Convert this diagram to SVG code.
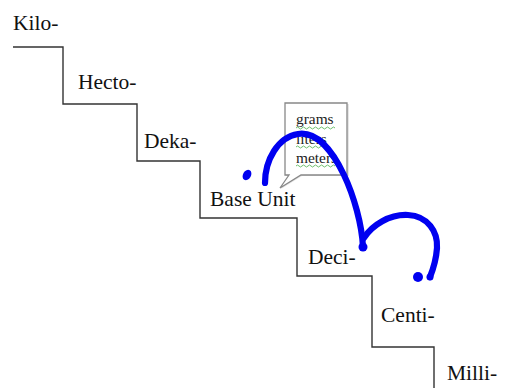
<svg xmlns="http://www.w3.org/2000/svg" width="505" height="388" viewBox="0 0 505 388">
<style>
.lbl{font-family:"Liberation Serif","Times New Roman",serif;font-size:21.5px;fill:#111}
.small{font-family:"Liberation Serif","Times New Roman",serif;font-size:15.4px;fill:#222}
.stair{fill:none;stroke:#333;stroke-width:1.4}
.ink{fill:none;stroke:#0000f0;stroke-width:6.2;stroke-linecap:round;stroke-linejoin:round}
.dot{fill:#0000f0}
.wavy{fill:none;stroke:#5cb85c;stroke-width:0.9}
</style>
<rect width="505" height="388" fill="#fff"/>
<g id="stairs">
<path class="stair" d="M13,47 H63 V104 H137 V161 H200 V218 H297 V276 H372 V347 H434 V388"/>
</g>
<g id="kilo"><text class="lbl" x="13" y="30">Kilo-</text></g>
<g id="hecto"><text class="lbl" x="78" y="89">Hecto-</text></g>
<g id="deka"><text class="lbl" x="144" y="148">Deka-</text></g>
<g id="base"><text class="lbl" x="210" y="206">Base Unit</text></g>
<g id="deci"><text class="lbl" x="308" y="264">Deci-</text></g>
<g id="centi"><text class="lbl" x="381" y="322">Centi-</text></g>
<g id="milli"><text class="lbl" x="447" y="380">Milli-</text></g>
<g id="callout">
<path d="M286,104 H349 V176 H302 L281,189 L290,176 H286 Z" fill="#e6e6e6" stroke="none"/>
<path d="M285,103 H347 V175 H301 L280,188 L289,175 H285 Z" fill="#fff" stroke="#888" stroke-width="1.3"/>
<text class="small" x="296" y="124">grams</text>
<text class="small" x="296" y="144">liters</text>
<text class="small" x="296" y="163">meters</text>
<path class="wavy" d="M296,128 q1.5,-2 3,0 t3,0 t3,0 t3,0 t3,0 t3,0 t3,0 t3,0 t3,0 t3,0 t3,0 t3,0 t3,0"/>
<path class="wavy" d="M296,147 q1.5,-2 3,0 t3,0 t3,0 t3,0 t3,0 t3,0 t3,0 t3,0 t3,0 t3,0 t3,0"/>
<path class="wavy" d="M296,166 q1.5,-2 3,0 t3,0 t3,0 t3,0 t3,0 t3,0 t3,0 t3,0 t3,0 t3,0 t3,0 t3,0 t3,0"/>
</g>
<g id="connectors">
<path class="ink" d="M265,183 C265,160 278,137 298,134 C318,131 334,154 344,175 C354,196 362,225 363,247"/>
<path class="ink" d="M364,238 C372,225 390,214 408,215 C428,216 438,232 437,248 C436,262 432,272 430,277"/>
<circle class="dot" cx="363" cy="247" r="4.5"/>
<circle class="dot" cx="418" cy="277" r="5"/>
<circle class="dot" cx="430" cy="277" r="3.5"/>
<ellipse class="dot" cx="247" cy="175" rx="4" ry="5.5" transform="rotate(30 247 175)"/>
</g>
</svg>
